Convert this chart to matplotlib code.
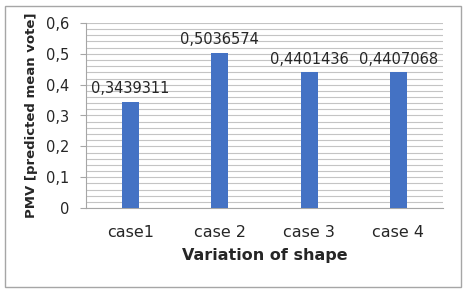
import matplotlib
matplotlib.use("Agg")
import matplotlib.pyplot as plt
from matplotlib.patches import Rectangle
import numpy as np

categories = ["case1", "case 2", "case 3", "case 4"]
values = [0.3439311, 0.5036574, 0.4401436, 0.4407068]
labels = ["0,3439311", "0,5036574", "0,4401436", "0,4407068"]
yticks = [0, 0.1, 0.2, 0.3, 0.4, 0.5, 0.6]
ytick_labels = ["0", "0,1", "0,2", "0,3", "0,4", "0,5", "0,6"]

plt.rcParams['font.family'] = ['DejaVu Sans']

fig = plt.figure(figsize=(4.66, 2.93), dpi=100)
fig.patches.append(Rectangle((5/466, 6/293), 456/466, 281/293, transform=fig.transFigure,
                             fill=False, edgecolor="#a6a6a6", linewidth=1.0))
ax = fig.add_axes([86/466, 1 - 208/293, 357/466, 185/293])

x = np.arange(len(categories))
ax.bar(x, values, width=0.19, color="#4472C4", zorder=3)
for xi, v, lab in zip(x, values, labels):
    ax.annotate(lab, (xi, v), xytext=(0, 4), textcoords="offset points",
                ha="center", va="bottom", fontsize=10.5, color="#262626", zorder=4)

ax.set_xlim(-0.5, len(categories) - 0.5)
ax.set_ylim(0, 0.6)
ax.set_yticks(yticks)
ax.set_yticklabels(ytick_labels, fontsize=10.5, color="#262626")
ax.set_yticks(np.arange(0, 0.6001, 0.02), minor=True)
ax.set_xticks(x)
ax.set_xticklabels(categories, fontsize=11.5, color="#262626")
ax.grid(axis="y", which="both", color="#c4c4c4", linewidth=0.8, zorder=0)
ax.tick_params(axis="y", which="minor", length=0)
ax.tick_params(axis="y", which="major", length=4, color="#a6a6a6", pad=8)
ax.tick_params(axis="x", length=0, pad=12)
for s in ["top", "right"]:
    ax.spines[s].set_visible(False)
ax.spines["left"].set_color("#a6a6a6")
ax.spines["bottom"].set_color("#a6a6a6")
ax.set_ylabel("PMV [predicted mean vote]", fontsize=9.5, fontweight="bold", color="#262626", labelpad=6)
ax.set_xlabel("Variation of shape", fontsize=11.5, fontweight="bold", color="#262626", labelpad=6)

fig.savefig("out.png", dpi=100)
